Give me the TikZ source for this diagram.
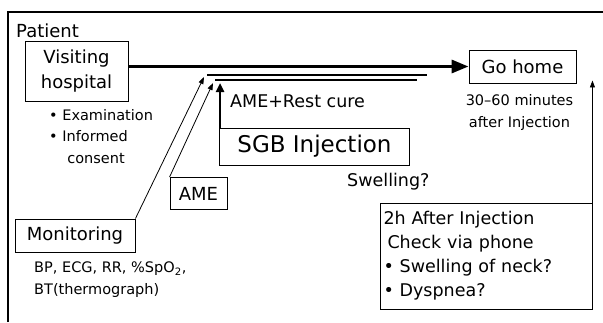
\documentclass[tikz,border=0pt]{standalone}
\usepackage{fontspec}
\setmainfont{DejaVu Sans}
\usetikzlibrary{positioning, arrows.meta}

\begin{document}
\begin{tikzpicture}[x=1pt, y=-1pt, inner sep=0pt,
    box/.style={draw, line width=0.9pt, align=center},
    big/.style={font=\fontsize{18}{25}\selectfont},
    mid/.style={font=\fontsize{17.5}{24}\selectfont},
    small/.style={font=\fontsize{14.5}{21.5}\selectfont},
    thickarrow/.style={line width=3.2pt, -{Triangle[length=17pt,width=13pt]}},
    uparrow/.style={line width=2.4pt, -{Triangle[length=9pt,width=8pt]}},
    thinarrow/.style={line width=0.8pt, -{Triangle[length=7pt,width=5pt]}},
    rest/.style={line width=2pt}]
    \useasboundingbox (0,0) rectangle (603,322);
    \draw[line width=1.1pt] (8,322) -- (8,12) -- (603,12);

    \node[big, anchor=west] (patient) at (16,31) {Patient};
    \node[box, big, minimum width=103pt, minimum height=60pt] (visit) at (76.5,71) {Visiting\\hospital};
    \node[small, align=left, anchor=north west] (exam) at (49,109) {• Examination\\• Informed\\\phantom{• }\hspace{5pt}consent};
    \node[box, big, minimum width=107pt, minimum height=33pt] (gohome) at (522.5,66.5) {Go home};
    \node[small, align=center, below=11pt of gohome, xshift=-3pt] (time) {30–60 minutes\\after Injection};
    \node[box, font=\fontsize{23}{28}\selectfont, minimum width=190pt, minimum height=37pt] (sgb) at (314.5,146.5) {SGB Injection};
    \node[mid, anchor=west] (restcure) at (230,101) {AME+Rest cure};
    \node[box, big, minimum width=57pt, minimum height=32pt] (ame) at (198.5,193.5) {AME};
    \node[box, big, minimum width=120pt, minimum height=33pt] (monit) at (75,235.5) {Monitoring};
    \node[small, align=left, anchor=north west] (vitals) at (34,262) {BP, ECG, RR, \%SpO\textsubscript{2},\\BT(thermograph)};
    \node[mid, anchor=west] (swell) at (347,182) {Swelling?};
    \node[box, mid, align=left, text width=205pt, inner xsep=3.5pt, minimum height=106pt] (check) at (486,256)
        {2h After Injection\\\hspace{4pt}Check via phone\\• Swelling of neck?\\• Dyspnea?};

    \coordinate (restA) at (207,75);
    \coordinate (restB) at (427,75);
    \coordinate (restC) at (215,80);
    \coordinate (restD) at (417,80);
    \coordinate (sgbtop) at ([xshift=1pt]sgb.north west);

    \draw[thickarrow] (visit.east |- gohome.west) -- (gohome.west);
    \draw[rest] (restA) -- (restB);
    \draw[rest] (restC) -- (restD);
    \draw[thinarrow] (monit.north east) -- ([shift={(-3,2)}]restA);
    \draw[thinarrow] (ame.north west) -- ([shift={(-2,3)}]restC);
    \draw[uparrow, shorten >=3pt] (sgbtop) -- (sgbtop |- restC);
    \draw[thinarrow, shorten >=-3pt] (check.north east) -- (check.north east |- gohome.south);
\end{tikzpicture}
\end{document}
